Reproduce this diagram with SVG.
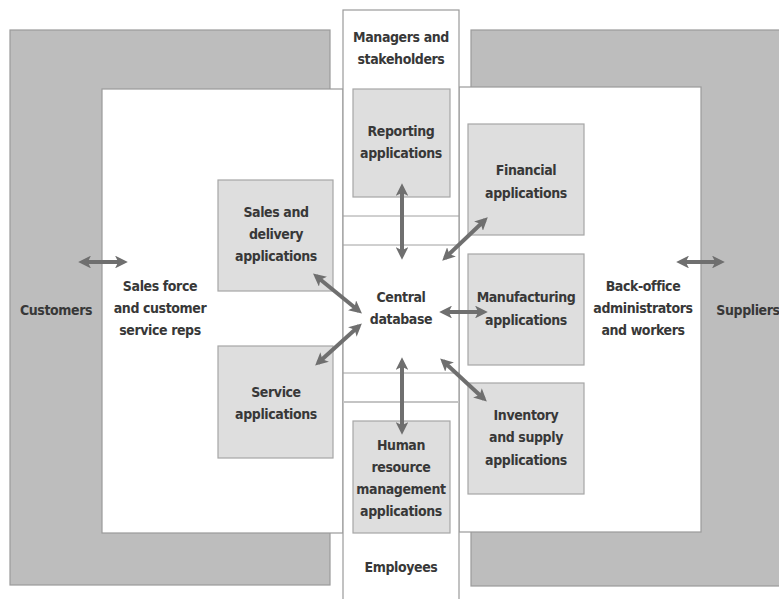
<svg xmlns="http://www.w3.org/2000/svg" width="779" height="599" viewBox="0 0 779 599">
<defs>
<style>
.outer{fill:#bdbdbd;stroke:#9a9a9a;stroke-width:1.2}
.inner{fill:#ffffff;stroke:#9a9a9a;stroke-width:1.2}
.box{fill:#dedede;stroke:#a6a6a6;stroke-width:1.2}
.sep{stroke:#a0a0a0;stroke-width:1;fill:none}
.conn{stroke:#6f6f6f;stroke-width:4;fill:none;marker-start:url(#ah);marker-end:url(#ah)}
text{font-family:"Liberation Sans Narrow","DejaVu Sans Condensed","Liberation Sans",sans-serif;font-weight:bold;font-size:14px;letter-spacing:-0.4px;fill:#383838;text-anchor:middle}
</style>
<marker id="ah" viewBox="0 0 10 10" refX="7" refY="5" markerWidth="3.2" markerHeight="3.2" orient="auto-start-reverse" markerUnits="strokeWidth">
<path d="M0,0 L10,5 L0,10 L2.5,5 Z" fill="#6f6f6f"/>
</marker>
</defs>

<g id="customers-zone">
<rect class="outer" x="10" y="30" width="320" height="555"/>
<text x="56" y="315">Customers</text>
</g>
<g id="suppliers-zone">
<rect class="outer" x="471" y="30" width="320" height="556"/>
<text x="748" y="315">Suppliers</text>
</g>
<g id="sales-force-zone">
<rect class="inner" x="102" y="89" width="241" height="444"/>
<text x="160" y="291">Sales force</text>
<text x="160" y="313">and customer</text>
<text x="160" y="335">service reps</text>
</g>
<g id="back-office-zone">
<rect class="inner" x="459" y="87" width="242" height="445"/>
<text x="643" y="291">Back-office</text>
<text x="643" y="313">administrators</text>
<text x="643" y="335">and workers</text>
</g>
<g id="center-column">
<rect class="inner" x="343" y="10" width="116" height="600"/>
<line class="sep" x1="343" y1="216" x2="459" y2="216"/>
<line class="sep" x1="343" y1="245" x2="459" y2="245"/>
<line class="sep" x1="343" y1="373" x2="459" y2="373"/>
<line x1="343" y1="402" x2="459" y2="402" stroke="#c4c4c4" stroke-width="2"/>
<text x="401" y="42">Managers and</text>
<text x="401" y="64">stakeholders</text>
<text x="401" y="572">Employees</text>
</g>
<g id="central-database">
<text x="401" y="302">Central</text>
<text x="401" y="324">database</text>
</g>
<g id="reporting">
<rect class="box" x="353" y="89" width="97" height="108"/>
<text x="401" y="136">Reporting</text>
<text x="401" y="158">applications</text>
</g>
<g id="sales-delivery">
<rect class="box" x="218" y="180" width="115" height="111"/>
<text x="276" y="217">Sales and</text>
<text x="276" y="239">delivery</text>
<text x="276" y="261">applications</text>
</g>
<g id="service">
<rect class="box" x="218" y="346" width="115" height="112"/>
<text x="276" y="397">Service</text>
<text x="276" y="419">applications</text>
</g>
<g id="financial">
<rect class="box" x="468" y="124" width="116" height="111"/>
<text x="526" y="175">Financial</text>
<text x="526" y="198">applications</text>
</g>
<g id="manufacturing">
<rect class="box" x="468" y="254" width="116" height="111"/>
<text x="526" y="302">Manufacturing</text>
<text x="526" y="325">applications</text>
</g>
<g id="inventory">
<rect class="box" x="468" y="383" width="116" height="111"/>
<text x="526" y="420">Inventory</text>
<text x="526" y="442">and supply</text>
<text x="526" y="465">applications</text>
</g>
<g id="human-resource">
<rect class="box" x="353" y="421" width="97" height="112"/>
<text x="401" y="450">Human</text>
<text x="401" y="472">resource</text>
<text x="401" y="494">management</text>
<text x="401" y="516">applications</text>
</g>

<g id="connectors">
<line class="conn" x1="82" y1="262" x2="124" y2="262"/>
<line class="conn" x1="680" y1="262" x2="721" y2="262"/>
<line class="conn" x1="402" y1="187" x2="402" y2="256"/>
<line class="conn" x1="402" y1="361" x2="402" y2="431"/>
<line class="conn" x1="445" y1="258" x2="485" y2="220"/>
<line class="conn" x1="443" y1="312" x2="484" y2="312"/>
<line class="conn" x1="443" y1="361" x2="484" y2="399"/>
<line class="conn" x1="316" y1="276" x2="359" y2="311"/>
<line class="conn" x1="318" y1="363" x2="359" y2="326"/>
</g>
</svg>
